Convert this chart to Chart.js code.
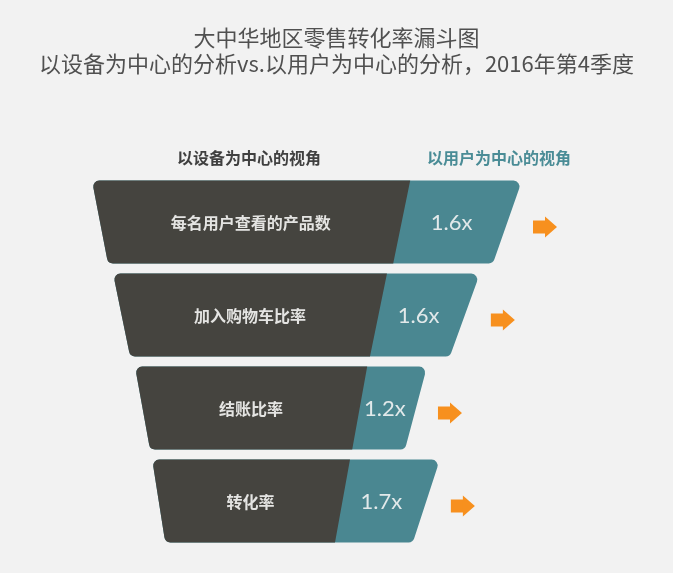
<!DOCTYPE html>
<html>
<head>
<meta charset="utf-8">
<script src="https://cdn.jsdelivr.net/npm/chart.js@4.4.1/dist/chart.umd.min.js"></script>
<style>
  html, body { margin: 0; padding: 0; background: #f2f2f2; }
  #wrap { width: 673px; height: 573px; position: relative; }
</style>
</head>
<body>
<div id="wrap"><canvas id="c"></canvas></div>
<script>
// ---- data ----
const stages = ['每名用户查看的产品数', '加入购物车比率', '结账比率', '转化率'];
const multipliers = [1.6, 1.6, 1.2, 1.7];
const deviceStart = [0, 4.9, 10.0, 14.0];     // left edge of device-centric funnel (0–100 scale)
const deviceEnd = [74.0, 68.6, 64.0, 60.0];    // where user-centric part begins
const userEnd = [100, 90.2, 77.9, 80.9];       // right edge of user-centric part
const titleLines = ['大中华地区零售转化率漏斗图', '以设备为中心的分析vs.以用户为中心的分析，2016年第4季度'];
const headerDevice = '以设备为中心的视角';
const headerUser = '以用户为中心的视角';

const DARK = '#45443f';
const TEAL = '#4a8791';
const ORANGE = '#f7901e';

function roundPoly(ctx, pts, radii) {
  const n = pts.length;
  const p0 = pts[0], pl = pts[n - 1];
  ctx.beginPath();
  ctx.moveTo((p0[0] + pl[0]) / 2, (p0[1] + pl[1]) / 2);
  for (let i = 0; i < n; i++) {
    const c = pts[i], nx = pts[(i + 1) % n];
    ctx.arcTo(c[0], c[1], nx[0], nx[1], radii[i]);
  }
  ctx.closePath();
}

const funnelPlugin = {
  id: 'funnel',
  afterDatasetsDraw(chart, args, opts) {
    const ctx = chart.ctx;
    const m0 = chart.getDatasetMeta(0), m1 = chart.getDatasetMeta(1);
    ctx.save();
    stages.forEach((name, i) => {
      const a = m0.data[i].getProps(['x', 'y', 'base', 'height'], true);
      const b = m1.data[i].getProps(['x', 'y', 'base', 'height'], true);
      const top = a.y - a.height / 2, bot = a.y + a.height / 2;
      const L = Math.min(a.x, a.base), S = Math.max(a.x, a.base), E = Math.max(b.x, b.base);
      const ls = opts.leftSlant[i], ms = opts.midSlant[i], rs = opts.rightSlant[i];
      const r = opts.radius;
      // whole shape in teal
      ctx.fillStyle = TEAL;
      roundPoly(ctx, [[L, top], [E, top], [E - rs, bot], [L + ls, bot]], [r, r, r, r]);
      ctx.fill();
      // device part in dark
      ctx.fillStyle = DARK;
      roundPoly(ctx, [[L, top], [S, top], [S - ms, bot], [L + ls, bot]], [r, 0, 0, r]);
      ctx.fill();
      // labels
      ctx.textAlign = 'center';
      ctx.textBaseline = 'middle';
      ctx.fillStyle = '#e4e4e2';
      ctx.font = 'bold 16px "Noto Sans CJK SC", sans-serif';
      const cxDark = (L + S + (L + ls) + (S - ms)) / 4;
      ctx.fillText(name, cxDark, a.y + 1);
      ctx.fillStyle = '#e2e9ea';
      ctx.font = '400 22px Lato, "Open Sans", sans-serif';
      const cxTeal = ((S + S - ms) / 2 + (E + E - rs) / 2) / 2 - 3;
      ctx.fillText(multipliers[i].toFixed(1) + 'x', cxTeal, a.y + 1);
      // arrow
      const x0 = E + 11, cy = a.y + 5;
      ctx.fillStyle = ORANGE;
      ctx.fillRect(x0, cy - 6.5, 13, 13);
      ctx.beginPath();
      ctx.moveTo(x0 + 12, cy - 10.5);
      ctx.lineTo(x0 + 24, cy);
      ctx.lineTo(x0 + 12, cy + 10.5);
      ctx.closePath();
      ctx.fill();
    });
    // column headers
    const a0 = m0.data[0].getProps(['x', 'y', 'base', 'height'], true);
    const b0 = m1.data[0].getProps(['x', 'y', 'base', 'height'], true);
    const hy = a0.y - a0.height / 2 - 23;
    ctx.font = 'bold 16px "Noto Sans CJK SC", sans-serif';
    ctx.fillStyle = '#404040';
    ctx.fillText(headerDevice, (Math.min(a0.x, a0.base) + Math.max(a0.x, a0.base)) / 2 - 2, hy);
    ctx.fillStyle = '#4a8c96';
    ctx.fillText(headerUser, (Math.min(b0.x, b0.base) + Math.max(b0.x, b0.base)) / 2 + 33, hy);
    // title
    ctx.fillStyle = '#505050';
    ctx.font = '400 22px "Noto Sans CJK SC", sans-serif';
    ctx.fillText(titleLines[0], chart.width / 2, 38);
    ctx.fillText(titleLines[1], chart.width / 2, 64);
    ctx.restore();
  }
};

new Chart(document.getElementById('c'), {
  type: 'bar',
  data: {
    labels: stages,
    datasets: [
      { label: headerDevice, data: stages.map((_, i) => [deviceStart[i], deviceEnd[i]]),
        backgroundColor: 'rgba(0,0,0,0)', grouped: false },
      { label: headerUser, data: stages.map((_, i) => [deviceEnd[i], userEnd[i]]),
        backgroundColor: 'rgba(0,0,0,0)', grouped: false }
    ]
  },
  options: {
    indexAxis: 'y',
    responsive: true,
    maintainAspectRatio: false,
    animation: false,
    layout: { padding: { left: 92, right: 151, top: 175.5, bottom: 25.5 } },
    datasets: { bar: { categoryPercentage: 1, barPercentage: 0.89 } },
    scales: {
      x: { display: false, min: 0, max: 100 },
      y: { display: false }
    },
    plugins: {
      legend: { display: false },
      tooltip: { enabled: false },
      title: { display: false },
      funnel: {
        leftSlant: [16, 17, 15, 13],
        midSlant: [17, 17, 15, 15],
        rightSlant: [29, 30, 22, 27],
        radius: 6
      }
    }
  },
  plugins: [funnelPlugin]
});
</script>
</body>
</html>
